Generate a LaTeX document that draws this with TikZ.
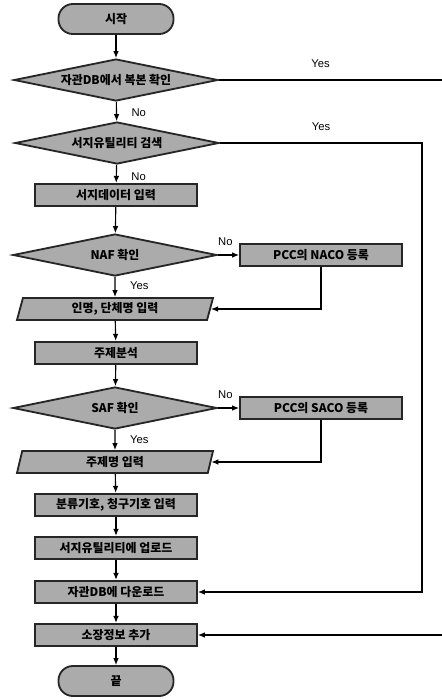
\documentclass[tikz,border=0pt]{standalone}
\usepackage{fontspec}
\setmainfont{Liberation Sans}
\newfontfamily\kr{Noto Sans CJK KR}
\usetikzlibrary{shapes.geometric,arrows.meta}

\begin{document}
\begin{tikzpicture}[x=0.025cm,y=-0.025cm,
    shp/.style={draw=black!85,fill=black!33,line width=1.3pt,inner sep=0pt,
      font=\kr\bfseries\fontsize{8.5}{10}\selectfont},
    term/.style={shp,rounded corners=0.36cm,minimum width=2.875cm,minimum height=0.75cm},
    proc/.style={shp,minimum width=4.05cm,minimum height=0.56cm},
    dec/.style={shp,diamond,aspect=5,minimum width=5.1cm,minimum height=1.05cm},
    io/.style={shp,trapezium,trapezium left angle=65,trapezium right angle=115,
      trapezium stretches body=true,minimum width=4.9cm,minimum height=0.55cm},
    lbl/.style={font=\fontsize{8}{9}\selectfont},
    arr/.style={-{Latex[length=5pt,width=4pt]},line width=0.8pt}]
    \useasboundingbox (0,0) rectangle (442,700);

    \draw (116,19) node[term] (St) {시작};
    \draw (116,80) node[dec] (Q1) {자관DB에서 복본 확인};
    \draw (117,143) node[dec] (Q2) {서지유틸리티 검색};
    \draw (116,195) node[proc] (In) {서지데이터 입력};
    \draw (115,255) node[dec] (Q3) {NAF 확인};
    \draw (321,255) node[proc] (Nc) {PCC의 NACO 등록};
    \draw (115,309) node[io] (Nm) {인명, 단체명 입력};
    \draw (116,353) node[proc] (Sj) {주제분석};
    \draw (115,408) node[dec] (Q4) {SAF 확인};
    \draw (321,408) node[proc] (Sc) {PCC의 SACO 등록};
    \draw (115,462) node[io] (Tp) {주제명 입력};
    \draw (116,505) node[proc] (Cl) {분류기호, 청구기호 입력};
    \draw (116,548) node[proc] (Up) {서지유틸리티에 업로드};
    \draw (116,592) node[proc] (Dn) {자관DB에 다운로드};
    \draw (116,635) node[proc] (Hd) {소장정보 추가};
    \draw (116,681) node[term] (En) {끝};

    \coordinate (R1) at (450,80);
    \coordinate (R2) at (422,143);

    \draw[arr] (St) -- (Q1);
    \draw[arr] (Q1) -- node[lbl,right=7pt,pos=.55] {No} (Q2);
    \draw[arr] (Q2) -- node[lbl,right=7pt,pos=.65] {No} (In);
    \draw[arr] (In) -- (Q3);
    \draw[arr] (Q3) -- node[lbl,above=3pt,pos=.35] {No} (Nc);
    \draw[arr] (Q3) -- node[lbl,right=7pt,pos=.43] {Yes} (Nm);
    \draw[arr] (Nc.south) |- (Nm.east);
    \draw[arr] (Nm) -- (Sj);
    \draw[arr] (Sj) -- (Q4);
    \draw[arr] (Q4) -- node[lbl,above=3pt,pos=.35] {No} (Sc);
    \draw[arr] (Q4) -- node[lbl,right=7pt,pos=.5] {Yes} (Tp);
    \draw[arr] (Sc.south) |- (Tp.east);
    \draw[arr] (Tp) -- (Cl);
    \draw[arr] (Cl) -- (Up);
    \draw[arr] (Up) -- (Dn);
    \draw[arr] (Dn) -- (Hd);
    \draw[arr] (Hd) -- (En);

    \draw[arr] (Q1.east) -- node[lbl,above=5pt,pos=.44] {Yes} (R1) |- (Hd.east);
    \draw[arr] (Q2.east) -- node[lbl,above=5pt,pos=.5] {Yes} (R2) |- (Dn.east);
\end{tikzpicture}
\end{document}
